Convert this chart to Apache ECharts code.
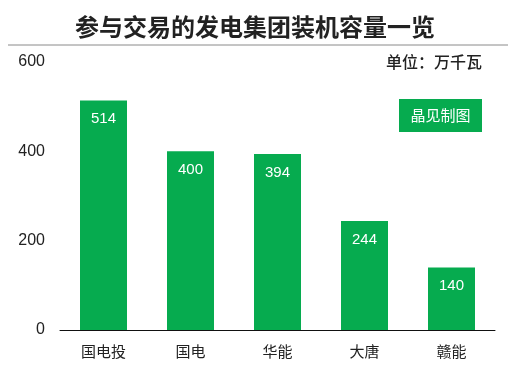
<!DOCTYPE html>
<html>
<head>
<meta charset="utf-8">
<script src="https://cdn.jsdelivr.net/npm/echarts@6/dist/echarts.min.js"></script>
<style>
  html, body { margin: 0; padding: 0; background: #fff; }
  #chart { width: 510px; height: 377px; }
</style>
</head>
<body>
<div id="chart"></div>
<script>
const categories = ['国电投', '国电', '华能', '大唐', '赣能'];
const capacity = [514, 400, 394, 244, 140];
const yTicks = [0, 200, 400, 600];

const green = '#06ab4f';
const font = '"Noto Sans CJK SC", "Noto Sans", sans-serif';
const numFont = '"Liberation Sans", Arial, sans-serif';

const chart = echarts.init(document.getElementById('chart'));
chart.setOption({
  animation: false,
  title: {
    text: '参与交易的发电集团装机容量一览',
    left: 'center',
    top: 10,
    textStyle: { fontSize: 24, fontWeight: 'bold', color: '#222', fontFamily: font },
  },
  graphic: [
    {
      type: 'line',
      shape: { x1: 8, y1: 45, x2: 508, y2: 45 },
      style: { stroke: '#8a8a8a', lineWidth: 1 },
    },
    {
      type: 'text',
      x: 482,
      y: 62,
      style: {
        text: '单位：万千瓦', fontSize: 16, fontWeight: 500, fill: '#222', fontFamily: font,
        align: 'right', verticalAlign: 'middle',
      },
    },
    {
      type: 'rect',
      shape: { x: 399, y: 99, width: 83, height: 33 },
      style: { fill: green },
    },
    {
      type: 'text',
      x: 440.5,
      y: 115.5,
      style: {
        text: '晶见制图', fontSize: 15, fill: '#fff', fontFamily: font,
        align: 'center', verticalAlign: 'middle',
      },
    },
  ],
  grid: { left: 60, right: 15, top: 62, bottom: 47 },
  xAxis: {
    type: 'category',
    data: categories,
    axisLine: { lineStyle: { color: '#111', width: 1 } },
    axisTick: { show: false },
    axisLabel: { fontSize: 15, color: '#222', margin: 14, fontFamily: font },
  },
  yAxis: {
    type: 'value',
    min: 0,
    max: 600,
    interval: 200,
    splitLine: { show: false },
    axisLine: { show: false },
    axisTick: { show: false },
    axisLabel: {
      fontSize: 16, color: '#222', margin: 15, fontFamily: numFont,
      formatter: (v) => (yTicks.includes(v) ? String(v) : ''),
    },
  },
  series: [
    {
      type: 'bar',
      data: capacity,
      barWidth: 47,
      itemStyle: { color: green },
      label: {
        show: true,
        position: 'insideTop',
        distance: 11,
        color: '#fff',
        fontSize: 15,
        fontFamily: numFont,
      },
    },
  ],
});
</script>
</body>
</html>
